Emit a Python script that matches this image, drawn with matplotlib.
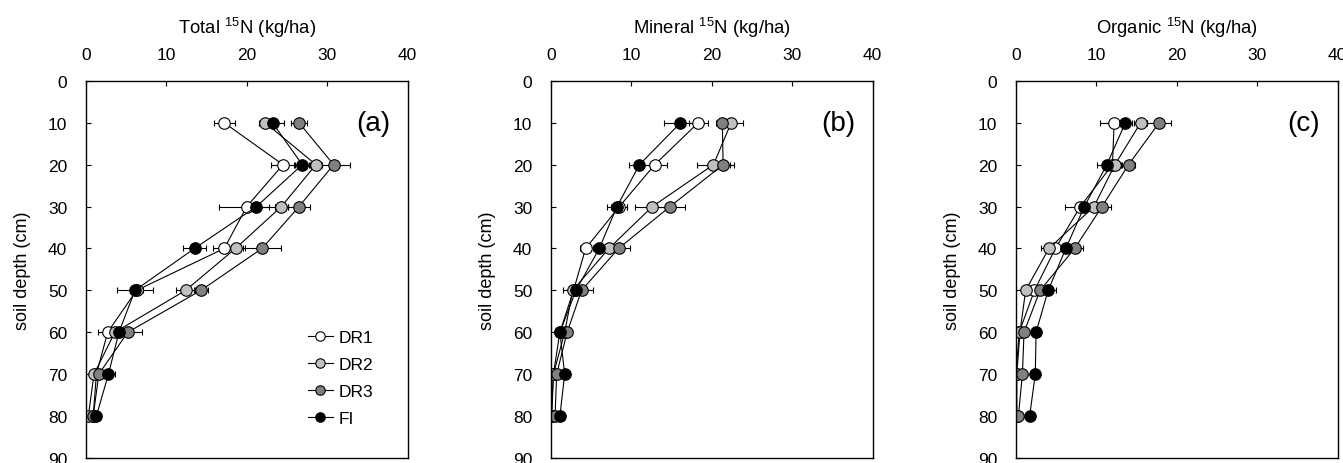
import matplotlib
matplotlib.use("Agg")
import matplotlib.pyplot as plt
import matplotlib.transforms as mtransforms
from matplotlib.lines import Line2D

plt.rcParams['font.family'] = ['Liberation Sans', 'DejaVu Sans']
plt.rcParams['mathtext.fontset'] = 'custom'
plt.rcParams['mathtext.rm'] = 'Liberation Sans'
plt.rcParams['mathtext.it'] = 'Liberation Sans:italic'

# soil depth (cm)
depth = [10, 20, 30, 40, 50, 60, 70, 80]
series = ['DR1', 'DR2', 'DR3', 'FI']
colors = {'DR1': 'white', 'DR2': '#c0c0c0', 'DR3': '#808080', 'FI': 'black'}

# (a) total 15N (kg/ha)
total_dr1 = [17.2, 24.5, 20.0, 17.2, 6.3, 2.7, 1.3, 0.9]
total_dr2 = [22.3, 28.6, 24.3, 18.6, 12.4, 3.6, 1.0, 0.3]
total_dr3 = [26.5, 30.8, 26.5, 21.9, 14.3, 5.2, 1.6, 0.9]
total_fi = [23.2, 26.9, 21.2, 13.5, 6.1, 4.1, 2.8, 1.3]
total_err_dr1 = [1.3, 1.5, 3.5, 1.4, 0.8, 1.2, 0.3, 0.2]
total_err_dr2 = [0.8, 0.8, 0.8, 1.2, 1.2, 0.6, 0.3, 0.2]
total_err_dr3 = [1.0, 2.0, 1.4, 2.4, 0.9, 1.8, 0.3, 0.2]
total_err_fi = [1.4, 1.0, 1.6, 1.4, 2.3, 0.5, 0.8, 0.3]

# (b) mineral 15N (kg/ha)
mineral_dr1 = [18.3, 12.9, 8.5, 4.3, 2.8, 1.1, 0.3, 0.1]
mineral_dr2 = [22.4, 20.2, 12.6, 7.2, 2.7, 1.7, 0.3, 0.0]
mineral_dr3 = [21.3, 21.4, 14.8, 8.4, 3.8, 2.0, 0.7, 0.5]
mineral_fi = [16.1, 11.0, 8.2, 6.0, 3.1, 1.1, 1.7, 1.1]
mineral_err_dr1 = [1.2, 1.5, 1.0, 0.7, 0.5, 0.3, 0.2, 0.2]
mineral_err_dr2 = [1.5, 2.0, 2.1, 0.8, 1.2, 0.4, 0.2, 0.2]
mineral_err_dr3 = [0.8, 1.3, 1.9, 1.4, 1.4, 0.4, 0.2, 0.2]
mineral_err_fi = [2.1, 1.3, 1.3, 0.8, 0.6, 0.3, 0.3, 0.2]

# (c) organic 15N (kg/ha)
organic_dr1 = [12.2, 12.0, 8.0, 4.9, 2.3, 0.4, 0.0, 0.1]
organic_dr2 = [15.5, 12.3, 9.7, 4.1, 1.2, 0.5, 0.1, 0.1]
organic_dr3 = [17.8, 14.0, 10.7, 7.3, 3.0, 1.0, 0.8, 0.3]
organic_fi = [13.6, 11.3, 8.5, 6.2, 4.0, 2.5, 2.4, 1.7]
organic_err_dr1 = [1.7, 0.8, 1.9, 0.8, 0.6, 0.3, 0.2, 0.1]
organic_err_dr2 = [0.8, 0.8, 0.8, 1.0, 0.4, 0.2, 0.1, 0.1]
organic_err_dr3 = [1.5, 0.8, 1.1, 1.0, 0.5, 0.3, 0.2, 0.1]
organic_err_fi = [0.8, 1.2, 0.7, 0.8, 1.0, 0.4, 0.3, 0.2]

panels = [
    ('Total $^{15}$N (kg/ha)', '(a)',
     [total_dr1, total_dr2, total_dr3, total_fi],
     [total_err_dr1, total_err_dr2, total_err_dr3, total_err_fi]),
    ('Mineral $^{15}$N (kg/ha)', '(b)',
     [mineral_dr1, mineral_dr2, mineral_dr3, mineral_fi],
     [mineral_err_dr1, mineral_err_dr2, mineral_err_dr3, mineral_err_fi]),
    ('Organic $^{15}$N (kg/ha)', '(c)',
     [organic_dr1, organic_dr2, organic_dr3, organic_fi],
     [organic_err_dr1, organic_err_dr2, organic_err_dr3, organic_err_fi]),
]

fig = plt.figure(figsize=(13.43, 4.64), dpi=100)
lefts = [0.064, 0.4103, 0.7565]
width = 0.2395
ms = 8.3

for i, (title, tag, values, errors) in enumerate(panels):
    ax = fig.add_axes([lefts[i], 0.011, width, 0.8125])
    for name, vals, err in zip(series, values, errors):
        ax.errorbar(vals, depth, xerr=err, fmt='-o', color='black', lw=0.8,
                    markersize=ms, markerfacecolor=colors[name],
                    markeredgecolor='black', markeredgewidth=0.8,
                    elinewidth=0.8, capsize=2.5, capthick=0.8)

    ax.set_xlim(0, 40)
    ax.set_ylim(90, 0)
    ax.set_xticks(range(0, 41, 10))
    ax.set_yticks(range(0, 91, 10))
    ax.xaxis.tick_top()
    ax.xaxis.set_label_position('top')
    ax.tick_params(direction='in', length=3.5, width=0.8, labelsize=12.5, pad=13.5)
    ax.set_xlabel(title, fontsize=13.3, labelpad=10)
    ax.set_ylabel('soil depth (cm)', fontsize=13, labelpad=12)
    for sp in ax.spines.values():
        sp.set_linewidth(1.0)

    trans = mtransforms.blended_transform_factory(ax.transAxes, ax.transData)
    ax.text(0.945, 10, tag, transform=trans, ha='right', va='center', fontsize=20)

    if i == 0:
        handles = [Line2D([], [], color='black', lw=0.8, marker='o', markersize=6.8,
                          markerfacecolor=colors[n], markeredgecolor='black',
                          markeredgewidth=0.8) for n in series]
        ax.legend(handles, series, loc='upper left', bbox_to_anchor=(0.69, 0.339),
                  frameon=False, fontsize=12.5, handlelength=1.45, handletextpad=0.33,
                  labelspacing=0.67, borderpad=0, borderaxespad=0)

fig.savefig('out.png', dpi=100)
